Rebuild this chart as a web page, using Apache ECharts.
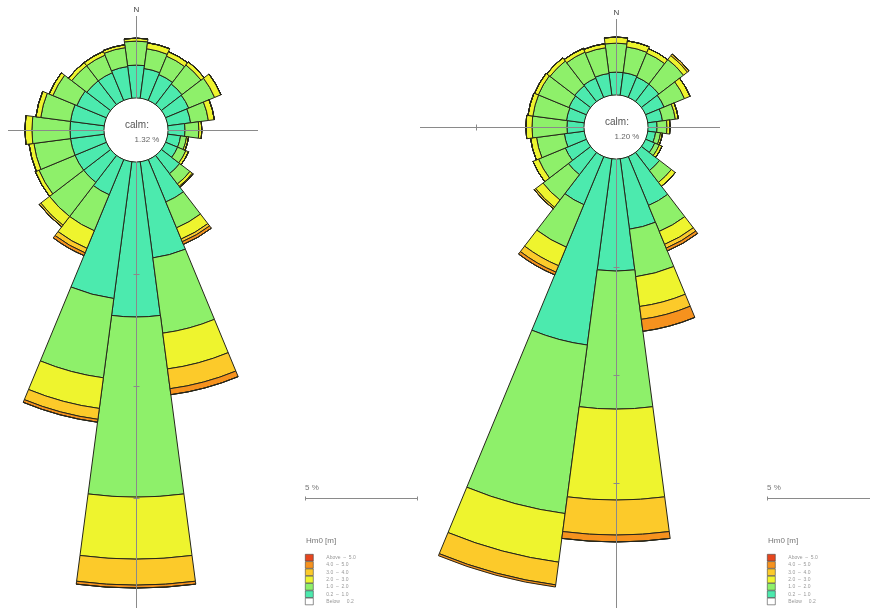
<!DOCTYPE html>
<html>
<head>
<meta charset="utf-8">
<title>Hm0 roses</title>
<script src="https://cdn.jsdelivr.net/npm/echarts@6/dist/echarts.min.js"></script>
<style>
  html, body { margin: 0; padding: 0; background: #fff; }
  #main { width: 870px; height: 608px; }
</style>
</head>
<body>
<div id="main"></div>
<script>
// direction sectors, 15 deg steps clockwise from N
var directions = ['0', '15', '30', '45', '60', '75', '90', '105', '120', '135', '150', '165',
    '180', '195', '210', '225', '240', '255', '270', '285', '300', '315', '330', '345'];

// Hm0 classes, inner to outer
var binNames = ['Below 0.2', '0.2 - 1.0', '1.0 - 2.0', '2.0 - 3.0', '3.0 - 4.0', '4.0 - 5.0', 'Above 5.0'];
var binColors = ['#ffffff', '#4ceaae', '#8ef06a', '#eef42e', '#fcca2a', '#f6921e', '#e6461e'];

// calm %
var leftCalm = 1.32;
var rightCalm = 1.20;

// left rose, % per direction
var leftBelow02 = [0, 0, 0, 0, 0, 0, 0, 0, 0, 0, 0, 0, 0, 0, 0, 0, 0, 0, 0, 0, 0, 0, 0, 0];
var left02to10 = [1.47, 1.34, 1.25, 1.16, 1.12, 1.03, 0.76, 0.58, 0.58, 1.03, 2.05, 4.33,
    6.92, 6.16, 1.70, 1.52, 1.52, 1.52, 1.52, 1.52, 1.43, 1.34, 1.34, 1.43];
var left10to20 = [1.07, 0.89, 0.89, 1.07, 1.25, 0.80, 0.62, 0.27, 0.40, 0.58, 1.25, 3.39,
    8.04, 3.57, 1.74, 1.92, 1.74, 1.65, 1.70, 1.34, 1.16, 0.85, 0.85, 0.85];
var left20to30 = [0.13, 0.27, 0.22, 0.18, 0.31, 0.27, 0.13, 0.09, 0.13, 0.13, 0.54, 1.61,
    2.77, 1.38, 0.85, 0.49, 0.18, 0.22, 0.31, 0.22, 0.18, 0.18, 0.18, 0.13];
var left30to40 = [0, 0, 0, 0, 0, 0, 0, 0, 0, 0.05, 0.13, 0.89,
    1.16, 0.49, 0.22, 0.09, 0, 0, 0, 0, 0, 0, 0, 0];
var left40to50 = [0, 0, 0, 0, 0, 0, 0, 0, 0, 0, 0.13, 0.27,
    0.13, 0.13, 0.13, 0, 0, 0, 0, 0, 0, 0, 0, 0];
var leftAbove50 = [0, 0, 0, 0, 0, 0, 0, 0, 0, 0, 0, 0, 0, 0, 0, 0, 0, 0, 0, 0, 0, 0, 0, 0];

// right rose, % per direction
var rightBelow02 = [0, 0, 0, 0, 0, 0, 0, 0, 0, 0, 0, 0, 0, 0, 0, 0, 0, 0, 0, 0, 0, 0, 0, 0];
var right02to10 = [1.06, 1.06, 1.02, 1.02, 0.93, 0.69, 0.42, 0.37, 0.46, 1.06, 2.45, 3.29,
    5.19, 8.70, 2.41, 1.30, 1.06, 0.93, 0.79, 0.83, 0.88, 0.93, 0.97, 1.02];
var right10to20 = [1.34, 1.20, 1.20, 1.44, 1.02, 0.60, 0.46, 0.23, 0.23, 0.69, 1.30, 2.22,
    6.39, 7.87, 2.13, 1.48, 1.34, 1.30, 1.62, 1.57, 1.53, 1.44, 1.30, 1.20];
var right20to30 = [0.28, 0.28, 0.23, 0.23, 0.28, 0.14, 0.14, 0.09, 0.14, 0.23, 0.65, 1.39,
    4.21, 2.27, 0.93, 0.42, 0.28, 0.28, 0.28, 0.23, 0.19, 0.19, 0.19, 0.19];
var right30to40 = [0, 0, 0, 0.09, 0, 0, 0, 0, 0, 0, 0.19, 0.60,
    1.62, 1.06, 0.32, 0.09, 0, 0, 0, 0, 0, 0, 0, 0];
var right40to50 = [0, 0, 0, 0, 0, 0, 0, 0, 0, 0, 0.14, 0.56,
    0.32, 0.14, 0.14, 0, 0, 0, 0, 0, 0, 0, 0, 0];
var rightAbove50 = [0, 0, 0, 0, 0, 0, 0, 0, 0, 0, 0, 0, 0, 0, 0, 0, 0, 0, 0, 0, 0, 0, 0, 0];

var radiusMax = 20;  // % at the outer edge of the polar
var fontFamily = 'Liberation Sans, Arial, sans-serif';

// layout of the two roses (px)
var roses = [
    { cx: 136, cy: 130, r0: 32, k: 22.4, calm: leftCalm, top: 16, left: 8, right: 258, legendX: 305,
        bins: [leftBelow02, left02to10, left10to20, left20to30, left30to40, left40to50, leftAbove50] },
    { cx: 616, cy: 127, r0: 32, k: 21.6, calm: rightCalm, top: 19, left: 420, right: 720, legendX: 767,
        bins: [rightBelow02, right02to10, right10to20, right20to30, right30to40, right40to50, rightAbove50] }
];

var myChart = echarts.init(document.getElementById('main'));

var polar = [], angleAxis = [], radiusAxis = [], series = [], legend = [], graphic = [];

roses.forEach(function (rose, p) {
    polar.push({ center: [rose.cx, rose.cy], radius: [rose.r0, rose.r0 + radiusMax * rose.k] });
    angleAxis.push({
        polarIndex: p, type: 'category', data: directions, startAngle: 97.5, clockwise: true,
        axisLine: { show: false }, axisTick: { show: false }, axisLabel: { show: false },
        splitLine: { show: false }, splitArea: { show: false }
    });
    radiusAxis.push({
        polarIndex: p, type: 'value', min: 0, max: radiusMax,
        axisLine: { show: false }, axisTick: { show: false }, axisLabel: { show: false },
        splitLine: { show: false }, splitArea: { show: false }
    });

    rose.bins.forEach(function (values, i) {
        series.push({
            name: binNames[i], type: 'bar', coordinateSystem: 'polar', polarIndex: p,
            stack: 'rose' + p, data: values, barCategoryGap: '0%',
            itemStyle: { color: binColors[i], borderColor: '#26261a', borderWidth: 1 },
            emphasis: { disabled: true }
        });
    });

    // legend of Hm0 classes
    legend.push({
        left: rose.legendX, top: 554, orient: 'vertical', selectedMode: false,
        data: binNames.slice().reverse(), icon: 'rect',
        itemWidth: 8, itemHeight: 6.7, itemGap: 0, padding: 0,
        itemStyle: { borderColor: '#444', borderWidth: 0.6 },
        textStyle: { fontSize: 5, lineHeight: 6.7, color: '#999', fontFamily: fontFamily, padding: [0, 0, 0, 8] },
        formatter: function (name) {
            if (name === 'Above 5.0') return 'Above  –  5.0';
            if (name === 'Below 0.2') return 'Below     0.2';
            return name.replace(' - ', '  –  ');
        }
    });

    var x = rose.cx + 0.5, y = rose.cy + 0.5;
    var axisStyle = { stroke: '#8a8a8a', lineWidth: 1 };
    // cross through the rose
    graphic.push({ type: 'line', z: 10, shape: { x1: x, y1: rose.top, x2: x, y2: 608 }, style: axisStyle });
    graphic.push({ type: 'line', z: 10, shape: { x1: rose.left, y1: y, x2: rose.right, y2: y }, style: axisStyle });
    // ticks every 5 %
    [5, 10, 15].forEach(function (v) {
        var r = rose.r0 + v * rose.k;
        graphic.push({ type: 'line', z: 10, shape: { x1: x - 3, y1: y + r, x2: x + 3, y2: y + r }, style: axisStyle });
        if (rose.cx - r > rose.left) {
            graphic.push({ type: 'line', z: 10, shape: { x1: x - r, y1: y - 3, x2: x - r, y2: y + 3 }, style: axisStyle });
        }
    });
    // calm circle
    graphic.push({ type: 'circle', z: 11, shape: { cx: rose.cx, cy: rose.cy, r: rose.r0 - 0.5 }, style: { fill: '#fff' } });
    graphic.push({ type: 'text', z: 12, x: rose.cx + 1, y: rose.cy - 5,
        style: { text: 'calm:', fill: '#555', fontSize: 10, fontFamily: fontFamily, align: 'center', verticalAlign: 'middle' } });
    graphic.push({ type: 'text', z: 12, x: rose.cx + 11, y: rose.cy + 10,
        style: { text: rose.calm.toFixed(2) + ' %', fill: '#666', fontSize: 8, fontFamily: fontFamily, align: 'center', verticalAlign: 'middle' } });
    graphic.push({ type: 'text', z: 12, x: rose.cx + 0.5, y: rose.top - 6,
        style: { text: 'N', fill: '#444', fontSize: 8, fontFamily: fontFamily, align: 'center', verticalAlign: 'middle' } });

    // 5 % scale bar
    var sx = rose.legendX + 0.5, sy = 498.5, len = 5 * rose.k;
    graphic.push({ type: 'line', shape: { x1: sx, y1: sy, x2: sx + len, y2: sy }, style: axisStyle });
    graphic.push({ type: 'line', shape: { x1: sx, y1: sy - 2, x2: sx, y2: sy + 2 }, style: axisStyle });
    graphic.push({ type: 'line', shape: { x1: sx + len, y1: sy - 2, x2: sx + len, y2: sy + 2 }, style: axisStyle });
    graphic.push({ type: 'text', x: rose.legendX, y: 484,
        style: { text: '5 %', fill: '#777', fontSize: 8, fontFamily: fontFamily } });
    graphic.push({ type: 'text', x: rose.legendX + 1, y: 537,
        style: { text: 'Hm0 [m]', fill: '#777', fontSize: 8, fontFamily: fontFamily } });
});

var option = {
    animation: false,
    backgroundColor: '#fff',
    polar: polar,
    angleAxis: angleAxis,
    radiusAxis: radiusAxis,
    legend: legend,
    series: series,
    graphic: graphic
};

myChart.setOption(option);
window.addEventListener('resize', function () {
    myChart.resize();
});
</script>
</body>
</html>
